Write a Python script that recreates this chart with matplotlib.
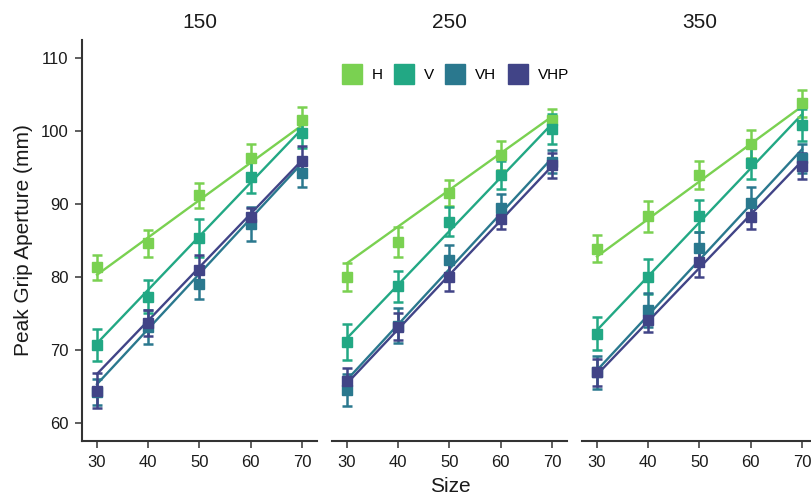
import matplotlib
matplotlib.use("Agg")
import matplotlib.pyplot as plt
from matplotlib.lines import Line2D

plt.rcParams["font.family"] = ["Liberation Sans", "DejaVu Sans"]

# Object size (x) and the three facet levels
sizes = [30, 40, 50, 60, 70]
panel_titles = ["150", "250", "350"]
conditions = ["H", "V", "VH", "VHP"]

# Mean peak grip aperture (mm) per condition and size
means_150 = {"H":   [81.3, 84.6, 91.2, 96.3, 101.5],
             "V":   [70.7, 77.3, 85.4, 93.7, 99.8],
             "VH":  [64.2, 73.1, 79.1, 87.3, 94.2],
             "VHP": [64.4, 73.7, 81.0, 88.2, 95.9]}
means_250 = {"H":   [80.0, 84.8, 91.5, 96.7, 101.5],
             "V":   [71.1, 78.7, 87.6, 94.0, 100.3],
             "VH":  [64.5, 73.3, 82.3, 89.4, 95.8],
             "VHP": [65.7, 73.2, 80.0, 88.0, 95.3]}
means_350 = {"H":   [83.9, 88.3, 94.0, 98.2, 103.8],
             "V":   [72.2, 80.0, 88.4, 95.6, 100.8],
             "VH":  [66.9, 75.5, 84.0, 90.2, 96.3],
             "VHP": [66.9, 74.1, 82.0, 88.2, 95.2]}

# Standard errors
sem_150 = {"H":   [1.7, 1.8, 1.75, 2.0, 1.8],
           "V":   [2.2, 2.3, 2.6, 2.2, 2.1],
           "VH":  [1.8, 2.3, 2.1, 2.3, 1.9],
           "VHP": [2.4, 1.8, 2.0, 1.3, 2.0]}
sem_250 = {"H":   [1.9, 2.0, 1.8, 2.0, 1.5],
           "V":   [2.5, 2.1, 2.0, 1.9, 2.0],
           "VH":  [2.2, 2.4, 2.1, 2.0, 1.6],
           "VHP": [1.8, 1.8, 1.9, 1.4, 1.7]}
sem_350 = {"H":   [1.9, 2.1, 1.9, 1.9, 1.9],
           "V":   [2.25, 2.4, 2.2, 2.2, 2.2],
           "VH":  [2.2, 2.3, 2.1, 2.1, 2.0],
           "VHP": [1.8, 1.7, 2.0, 1.6, 1.8]}

# Linear fit (from trial-level data) evaluated at size 30 and size 70
fit_150 = {"H": (80.3, 100.8), "V": (70.9, 100.3), "VH": (65.3, 95.6), "VHP": (66.7, 96.0)}
fit_250 = {"H": (81.9, 102.0), "V": (71.6, 101.0), "VH": (65.9, 96.3), "VHP": (65.4, 95.2)}
fit_350 = {"H": (82.8, 103.4), "V": (72.7, 102.3), "VH": (67.2, 97.5), "VHP": (66.6, 95.9)}

means = [means_150, means_250, means_350]
sems = [sem_150, sem_250, sem_350]
fits = [fit_150, fit_250, fit_350]

palette = {"H": "#7AD151", "V": "#22A884", "VH": "#2A788E", "VHP": "#414487"}
axis_col = "#333333"

W, H = 812, 496
fig = plt.figure(figsize=(W / 100, H / 100), dpi=100)

for i, left in enumerate([82, 332, 582]):
    ax = fig.add_axes([left / W, (H - 441) / H, 235 / W, 401 / H])
    for cond in conditions:
        c = palette[cond]
        ax.plot([sizes[0], sizes[-1]], fits[i][cond], color=c, lw=1.7, zorder=2)
        ax.errorbar(sizes, means[i][cond], yerr=sems[i][cond], fmt="s", ms=6.5,
                    color=c, elinewidth=1.8, capsize=3.3, capthick=1.8, zorder=3)

    ax.set_xlim(27.07, 72.93)
    ax.set_ylim(57.5, 112.5)
    ax.set_xticks(sizes)
    ax.set_yticks([60, 70, 80, 90, 100, 110])
    ax.set_title(panel_titles[i], fontsize=15, pad=9, color="#1a1a1a")

    for side in ["top", "right"]:
        ax.spines[side].set_visible(False)
    ax.spines["bottom"].set_color(axis_col)
    ax.spines["bottom"].set_linewidth(1.5)
    ax.spines["left"].set_color(axis_col)
    ax.spines["left"].set_linewidth(1.5)
    ax.tick_params(length=4.8, width=1.1, color=axis_col, labelsize=12,
                   labelcolor="#1a1a1a", pad=5)
    if i > 0:
        ax.spines["left"].set_visible(False)
        ax.tick_params(axis="y", left=False, labelleft=False)

fig.text(450 / W, 4 / H, "Size", fontsize=15, ha="center", va="baseline",
         color="#1a1a1a")
fig.text(24 / W, (H - 240.5) / H, "Peak Grip Aperture (mm)", fontsize=15,
         rotation=90, ha="center", va="center", color="#1a1a1a")

handles = [Line2D([], [], marker="s", ls="none", ms=15, color=palette[c])
           for c in conditions]
fig.legend(handles, conditions, loc="center left",
           bbox_to_anchor=(341 / W, (H - 75) / H), ncol=4, frameon=False,
           fontsize=11, handlelength=1.4, handletextpad=0.6,
           columnspacing=0.7, borderpad=0, borderaxespad=0)

fig.savefig("out.png", dpi=100)
